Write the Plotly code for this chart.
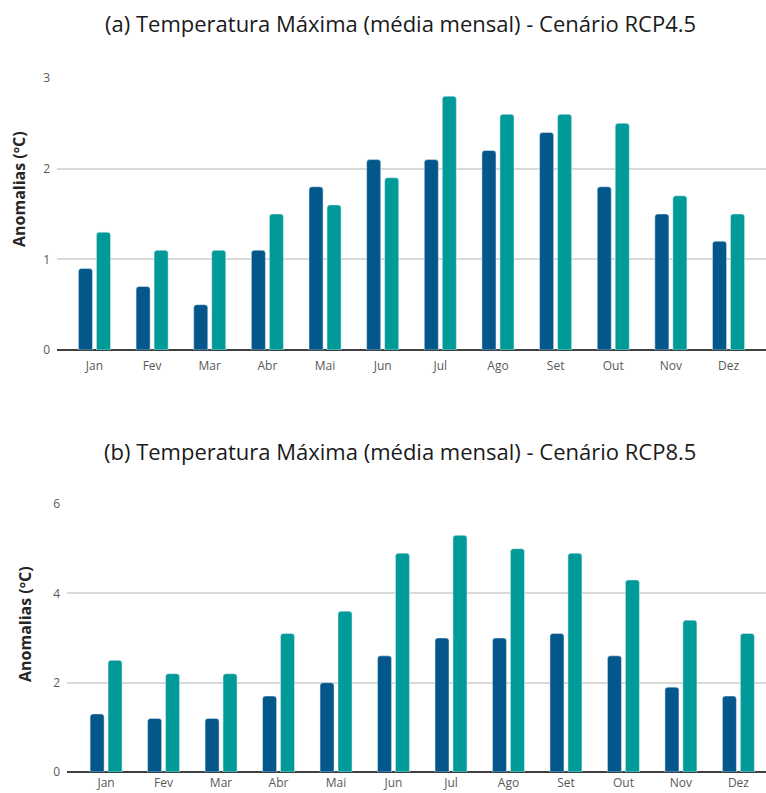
import plotly.graph_objects as go
from plotly.subplots import make_subplots

meses = ["Jan", "Fev", "Mar", "Abr", "Mai", "Jun", "Jul", "Ago", "Set", "Out", "Nov", "Dez"]

# (a) RCP4.5
rcp45_serie1 = [0.9, 0.7, 0.5, 1.1, 1.8, 2.1, 2.1, 2.2, 2.4, 1.8, 1.5, 1.2]
rcp45_serie2 = [1.3, 1.1, 1.1, 1.5, 1.6, 1.9, 2.8, 2.6, 2.6, 2.5, 1.7, 1.5]

# (b) RCP8.5
rcp85_serie1 = [1.3, 1.2, 1.2, 1.7, 2.0, 2.6, 3.0, 3.0, 3.1, 2.6, 1.9, 1.7]
rcp85_serie2 = [2.5, 2.2, 2.2, 3.1, 3.6, 4.9, 5.3, 5.0, 4.9, 4.3, 3.4, 3.1]

titulo_a = "(a) Temperatura Máxima (média mensal) - Cenário RCP4.5"
titulo_b = "(b) Temperatura Máxima (média mensal) - Cenário RCP8.5"
ytitulo = "Anomalias (ºC)"

COR1 = "#03578A"
COR2 = "#009B99"
W, H = 766, 793
FONT = "Open Sans"

fig = make_subplots(rows=2, cols=1)

fig.add_trace(go.Bar(x=meses, y=rcp45_serie1, marker_color=COR1, showlegend=False), row=1, col=1)
fig.add_trace(go.Bar(x=meses, y=rcp45_serie2, marker_color=COR2, showlegend=False), row=1, col=1)
fig.add_trace(go.Bar(x=meses, y=rcp85_serie1, marker_color=COR1, showlegend=False), row=2, col=1)
fig.add_trace(go.Bar(x=meses, y=rcp85_serie2, marker_color=COR2, showlegend=False), row=2, col=1)

tick_font = dict(family=FONT, size=12, color="#595959")

fig.update_layout(
    width=W, height=H,
    margin=dict(l=0, r=0, t=0, b=0, pad=0, autoexpand=False),
    paper_bgcolor="white", plot_bgcolor="white",
    barmode="group", bargap=0.375, bargroupgap=0.22,
    barcornerradius=3,
    font=dict(family=FONT),
)

fig.update_xaxes(showgrid=False, ticks="", tickfont=tick_font, showline=False, zeroline=False,
                 automargin=False)
fig.update_layout(
    xaxis=dict(domain=[57 / W, 1], range=[-0.65, 11.65], ticklabelstandoff=7),
    xaxis2=dict(domain=[67 / W, 1], range=[-0.68, 11.48], ticklabelstandoff=2),
    yaxis=dict(domain=[1 - 350 / H, 1 - 78 / H], range=[0, 3], dtick=1),
    yaxis2=dict(domain=[1 - 772 / H, 1 - 504 / H], range=[0, 6], dtick=2),
)
fig.update_yaxes(showgrid=True, gridcolor="#D9D9D9", gridwidth=1.5, ticks="",
                 tickfont=tick_font, zeroline=True, zerolinecolor="#404040",
                 zerolinewidth=2, showline=False, ticklabelstandoff=6, automargin=False)

for txt, yc in [(titulo_a, 23), (titulo_b, 451)]:
    fig.add_annotation(text=txt, x=400 / W, y=1 - yc / H, xref="paper", yref="paper",
                       xanchor="center", yanchor="middle", showarrow=False,
                       font=dict(family=FONT, size=22, color="#1a1a1a"))
for xc, yc in [(19, 189), (25, 624)]:
    fig.add_annotation(text="<b>" + ytitulo + "</b>", x=xc / W, y=1 - yc / H,
                       xref="paper", yref="paper", xanchor="center", yanchor="middle",
                       showarrow=False, textangle=-90,
                       font=dict(family=FONT, size=16, color="#262626"))

fig.write_html("out.html")
